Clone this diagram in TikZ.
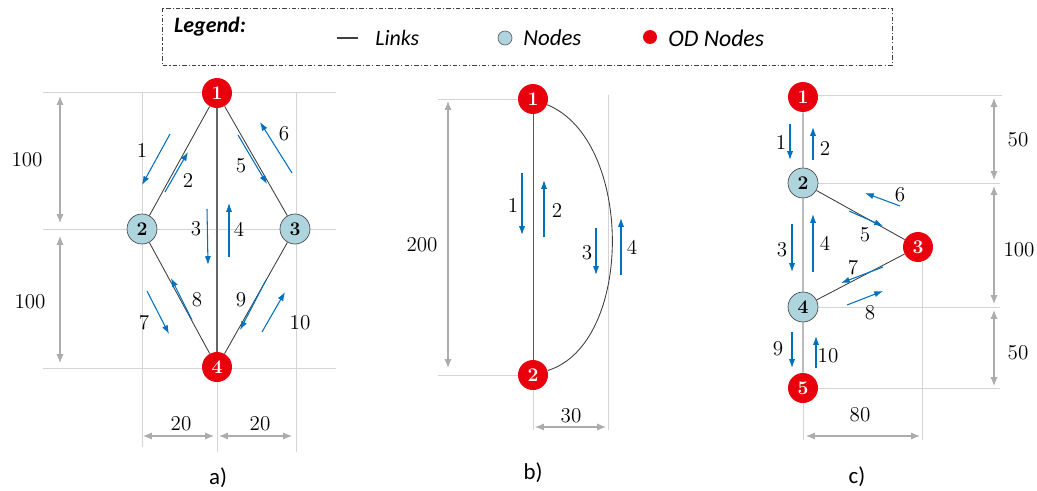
\documentclass[tikz,border=0pt]{standalone}
\usepackage{fontspec}
\newfontfamily\carlito{Carlito}
\usetikzlibrary{arrows.meta,positioning}
\definecolor{odred}{RGB}{232,0,12}
\definecolor{nodeblue}{RGB}{174,212,222}
\definecolor{flowblue}{RGB}{0,112,192}
\definecolor{dimgray}{RGB}{172,172,172}
\definecolor{guidegray}{RGB}{212,212,212}
\tikzstyle{link} = [draw=black!75,line width=0.5pt]
\tikzstyle{flow} = [draw=flowblue,line width=0.6pt,-{Latex[length=5pt,width=3.5pt]}]
\tikzstyle{dimline} = [draw=dimgray,line width=0.6pt,{Latex[length=5pt,width=4pt]}-{Latex[length=5pt,width=4pt]}]
\tikzstyle{guide} = [draw=guidegray,line width=0.5pt]
\tikzstyle{od} = [circle,fill=odred,text=white,font=\bfseries\fontsize{11}{11}\selectfont,inner sep=0pt,minimum size=0.6cm]
\tikzstyle{mid} = [circle,draw=black!70,fill=nodeblue,font=\bfseries\fontsize{11}{11}\selectfont,inner sep=0pt,minimum size=0.6cm]
\tikzstyle{lbl} = [font=\fontsize{12}{12}\selectfont,inner sep=0pt]
\tikzstyle{subcap} = [font=\carlito\fontsize{13}{13}\selectfont,inner sep=0pt]

\begin{document}
\begin{tikzpicture}[x=0.02cm,y=-0.02cm]
    \useasboundingbox (0,0) rectangle (1037,490);
    % legend
    \draw[draw=black!75,line width=0.5pt,dash pattern=on 2.5pt off 1.2pt on 0.6pt off 1.2pt] (162,8) rectangle (892,65);
    \node[font=\carlito\bfseries\itshape\fontsize{12.5}{12.5}\selectfont,inner sep=0pt] (leg) at (210,27) {Legend:};
    \coordinate (key_l0) at (337,38);
    \coordinate (key_l1) at (358,38);
    \draw[link,line width=0.8pt] (key_l0) -- (key_l1);
    \node[font=\carlito\itshape\fontsize{12.5}{12.5}\selectfont,anchor=west,inner sep=0pt] (key_links) at (375,38) {Links};
    \node[circle,draw=black!60,fill=nodeblue,minimum size=0.28cm,inner sep=0pt] (key_n) at (505,38) {};
    \node[font=\carlito\itshape\fontsize{13}{13}\selectfont,anchor=west,inner sep=0pt] (key_nodes) at (523,38) {Nodes};
    \node[circle,fill=odred,minimum size=0.28cm,inner sep=0pt] (key_od) at (650,37) {};
    \node[font=\carlito\itshape\fontsize{13.5}{13.5}\selectfont,anchor=west,inner sep=0pt] (key_odnodes) at (668,38) {OD Nodes};

    % a) guides and dimensions
    \draw[guide] (43,92) -- (336,92) (43,229) -- (336,229) (43,368) -- (336,368);
    \draw[guide] (142,92) -- (142,447) (296,92) -- (296,452) (217,368) -- (217,452);
    \draw[dimline] (60,96) -- (60,223);
    \draw[dimline] (60,236) -- (60,363);
    \draw[dimline] (143,436) -- (214,436);
    \draw[dimline] (219,436) -- (292,436);
    \node[lbl] (a_h1) at (27,160) {100};
    \node[lbl] (a_h2) at (30,302) {100};
    \node[lbl] (a_w1) at (181,424) {20};
    \node[lbl] (a_w2) at (260,424) {20};
    % a) network
    \node[od] (a_1) at (217,93) {1};
    \node[mid] (a_2) at (142,229) {2};
    \node[mid] (a_3) at (295,229) {3};
    \node[od] (a_4) at (217,367) {4};
    \draw[link] (a_1) -- (a_2) (a_1) -- (a_3) (a_2) -- (a_4) (a_3) -- (a_4);
    \draw[link,line width=0.7pt,draw=black!60] (a_1) -- (a_4);
    \draw[flow] (170,134) -- (142,185);
    \draw[flow] (165,192) -- (188,152);
    \draw[flow] (207,209) -- (208,265);
    \draw[flow] (229,257) -- (229,203);
    \draw[flow] (238,135) -- (267,184);
    \draw[flow] (292,173) -- (260,122);
    \draw[flow] (147,291) -- (169,334);
    \draw[flow] (192,320) -- (171,278);
    \draw[flow] (266,280) -- (240,330);
    \draw[flow] (262,332) -- (285,292);
    \node[lbl] (a_f1) at (142,150) {1};
    \node[lbl] (a_f2) at (188,180) {2};
    \node[lbl] (a_f3) at (196,229) {3};
    \node[lbl] (a_f4) at (239,229) {4};
    \node[lbl] (a_f5) at (241,166) {5};
    \node[lbl] (a_f6) at (284,134) {6};
    \node[lbl] (a_f7) at (144,323) {7};
    \node[lbl] (a_f8) at (197,300) {8};
    \node[lbl] (a_f9) at (241,300) {9};
    \node[lbl] (a_f10) at (300,323) {10};
    \node[subcap] (cap_a) at (218,478) {a)};

    % b) guides and dimensions
    \draw[guide] (438,99) -- (518,99) (438,375) -- (518,375);
    \draw[guide] (608,95) -- (608,430) (533,390) -- (533,430);
    \draw[dimline] (448,101) -- (448,368);
    \draw[dimline] (535,427) -- (606,427);
    \node[lbl] (b_h) at (422,245) {200};
    \node[lbl] (b_w) at (571,416) {30};
    % b) network
    \node[od] (b_1) at (533,99) {1};
    \node[od] (b_2) at (533,375) {2};
    \draw[link,draw=black!65] (b_1) -- (b_2);
    \draw[link] (b_1) .. controls (634,140) and (634,344) .. (b_2);
    \draw[flow] (522,173) -- (522,235);
    \draw[flow] (544,237) -- (544,180);
    \draw[flow] (596,228) -- (596,275);
    \draw[flow] (621,275) -- (621,218);
    \node[lbl] (b_f1) at (513,205) {1};
    \node[lbl] (b_f2) at (557,210) {2};
    \node[lbl] (b_f3) at (587,253) {3};
    \node[lbl] (b_f4) at (632,247) {4};
    \node[subcap] (cap_b) at (533,473) {b)};

    % c) guides and dimensions
    \draw[guide] (818,95) -- (1002,95) (818,183) -- (1000,183) (818,307) -- (1000,307) (818,388) -- (1000,388);
    \draw[guide] (803,403) -- (803,440) (922,262) -- (922,440);
    \draw[dimline] (994,98) -- (994,180);
    \draw[dimline] (994,186) -- (994,304);
    \draw[dimline] (994,310) -- (994,386);
    \draw[dimline] (806,436) -- (920,436);
    \node[lbl] (c_h1) at (1018,140) {50};
    \node[lbl] (c_h2) at (1019,250) {100};
    \node[lbl] (c_h3) at (1018,353) {50};
    \node[lbl] (c_w) at (860,415) {80};
    % c) network
    \node[od] (c_1) at (803,97) {1};
    \node[mid] (c_2) at (803,183) {2};
    \node[od] (c_3) at (918,247) {3};
    \node[mid] (c_4) at (803,307) {4};
    \node[od] (c_5) at (803,388) {5};
    \draw[link] (c_1) -- (c_2) (c_2) -- (c_4) (c_4) -- (c_5) (c_2) -- (c_3) (c_3) -- (c_4);
    \draw[flow] (790,124) -- (790,160);
    \draw[flow] (813,160) -- (813,127);
    \draw[flow] (792,224) -- (792,272);
    \draw[flow] (813,272) -- (813,214);
    \draw[flow] (849,211) -- (883,226);
    \draw[flow] (900,206) -- (865,193);
    \draw[flow] (883,267) -- (841,283);
    \draw[flow] (847,305) -- (883,291);
    \draw[flow] (792,332) -- (792,368);
    \draw[flow] (816,368) -- (816,336);
    \node[lbl] (c_f1) at (781,142) {1};
    \node[lbl] (c_f2) at (825,148) {2};
    \node[lbl] (c_f3) at (782,250) {3};
    \node[lbl] (c_f4) at (825,243) {4};
    \node[lbl] (c_f5) at (865,235) {5};
    \node[lbl] (c_f6) at (900,195) {6};
    \node[lbl] (c_f7) at (853,268) {7};
    \node[lbl] (c_f8) at (870,313) {8};
    \node[lbl] (c_f9) at (778,349) {9};
    \node[lbl] (c_f10) at (828,356) {10};
    \node[subcap] (cap_c) at (857,477) {c)};
\end{tikzpicture}
\end{document}
